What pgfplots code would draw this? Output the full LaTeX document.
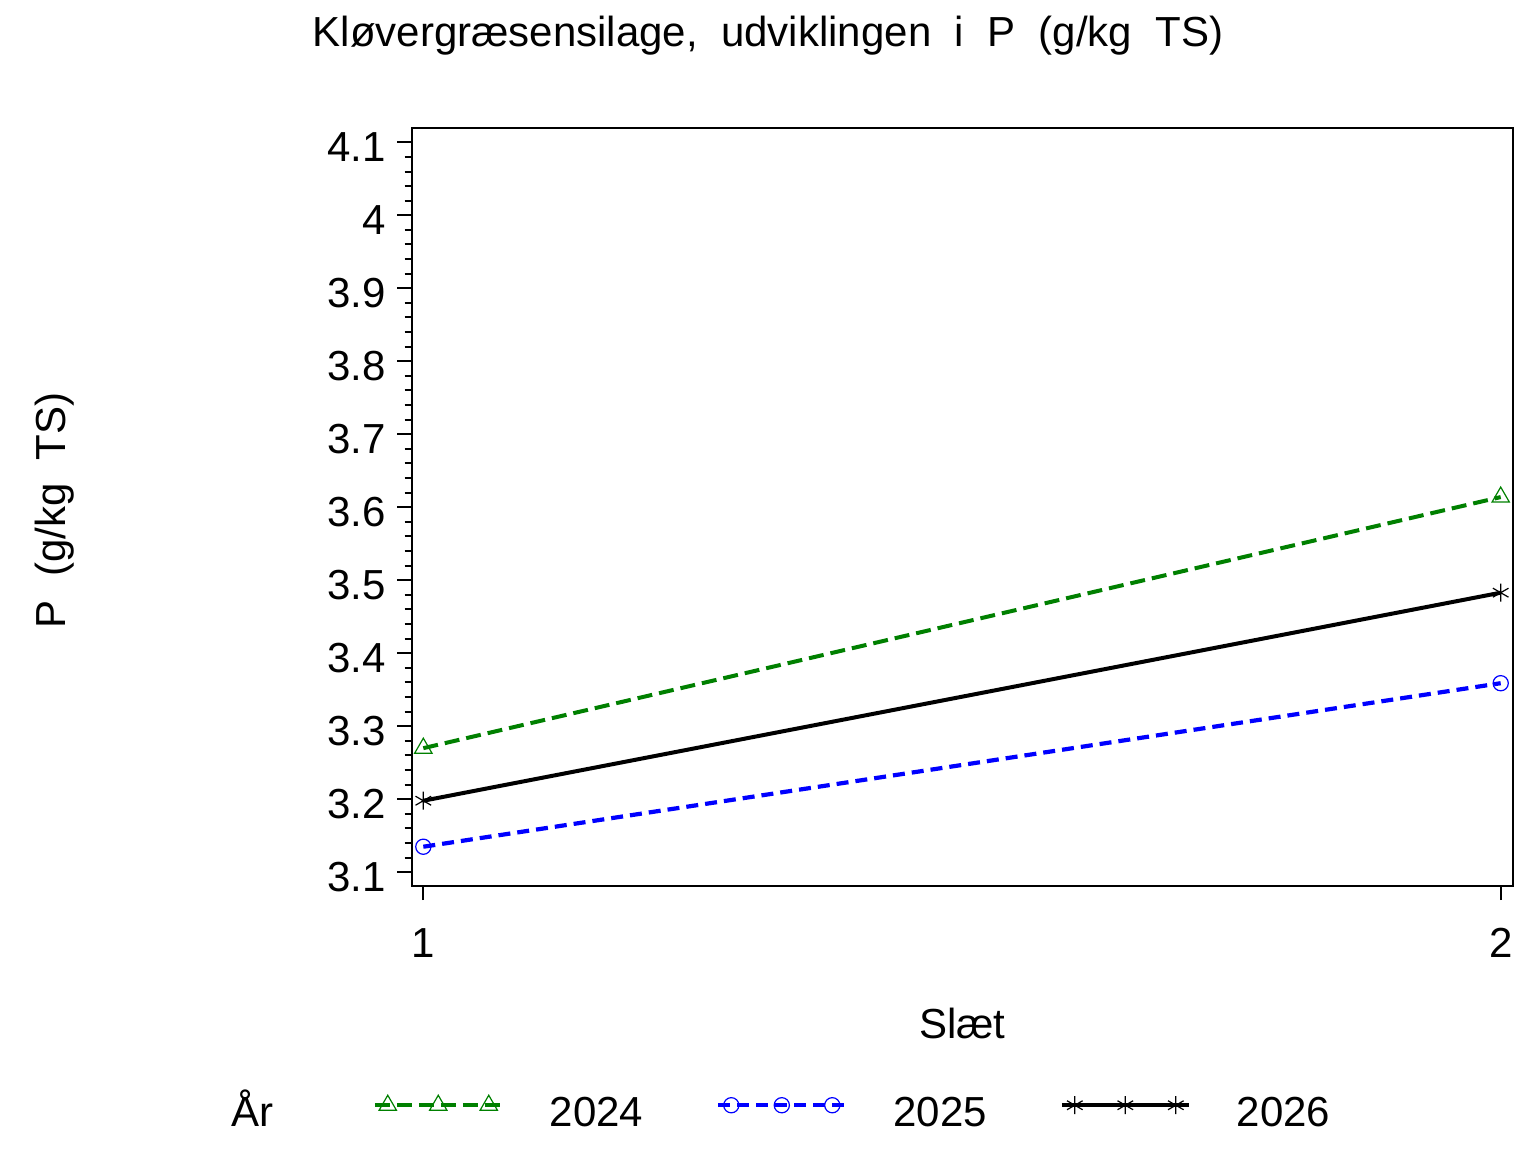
\documentclass[border=0pt]{standalone}
\usepackage{fontspec}
\setmainfont{Liberation Sans}
\usepackage{pgfplots}
\pgfplotsset{compat=1.18}
\definecolor{sasgreen}{RGB}{0,128,0}
\definecolor{sasblue}{RGB}{0,0,255}
\newcommand{\fs}[1]{\fontsize{#1}{1.2\dimexpr#1\relax}\selectfont}
\begin{document}
\begin{tikzpicture}
\begin{axis}[
  at={(0,0)}, anchor=south west,
  scale only axis, width=550.8bp, height=378.85bp,
  xmin=0.9892, xmax=2.0117, ymin=3.0816, ymax=4.1196,
  xtick={1,2},
  ytick={3.1,3.2,3.3,3.4,3.5,3.6,3.7,3.8,3.9,4,4.1},
  minor y tick num=4,
  tick pos=left, tick align=outside,
  major tick length=7.25bp, minor tick length=3.5bp,
  axis line style={line width=1bp},
  tick style={line width=1bp, black},
  /pgf/number format/assume math mode=true,
  yticklabel style={font=\fs{21bp}, anchor=east, inner sep=0pt, yshift=-2.5bp},
  yticklabel shift=5.5bp,
  xticklabel style={font=\fs{21bp}, anchor=north, inner sep=0pt},
  xticklabel shift=14bp,
  title={Kløvergræsensilage,\ \ udviklingen\ \ i\ \ P\ \ (g/kg\ \ TS)},
  title style={at={(axis description cs:0.3235,1.0924)}, anchor=base, inner sep=0pt, font=\fs{21bp}},
  xlabel={Slæt},
  xlabel style={at={(axis description cs:0.5,-0.2019)}, anchor=base, inner sep=0pt, font=\fs{21bp}},
  ylabel={P\ \ (g/kg\ \ TS)},
  ylabel style={at={(axis description cs:-0.3147,0.4954)}, anchor=base, inner sep=0pt, font=\fs{21bp}},
  legend columns=4,
  legend cell align=left,
  legend style={draw=none, fill=none, inner sep=0pt, outer sep=0pt,
    at={(axis description cs:-0.2051,-0.2970)}, anchor=west,
    font=\fs{21bp},
    nodes={inner sep=0pt, text height=15bp, text depth=0pt},
    /tikz/every odd column/.append style={column sep=23bp},
    /tikz/every even column/.append style={column sep=36.5bp}},
  legend image code/.code={\draw[#1, mark indices={2,3,4}] plot coordinates {(0bp,3bp) (6.5bp,3bp) (31.75bp,3bp) (57bp,3bp) (63.5bp,3bp)};},
]
\addlegendimage{empty legend}
\addlegendentry{År\rule{13bp}{0pt}}
\addplot[sasgreen, line width=2bp, dash pattern=on 7.5bp off 3.5bp, mark=triangle, mark size=5bp, mark options={solid, line width=0.6bp}]
  coordinates {(1,3.270) (2,3.614)};
\addlegendentry{2024}
\addplot[sasblue, line width=2.1bp, dash pattern=on 6bp off 3.5bp, mark=o, mark size=3.8bp, mark options={solid, line width=0.6bp}]
  coordinates {(1,3.135) (2,3.359)};
\addlegendentry{2025}
\addplot[black, line width=2bp, solid, mark=asterisk, mark size=4.5bp, mark options={solid, line width=0.6bp}]
  coordinates {(1,3.198) (2,3.483)};
\addlegendentry{2026}
\end{axis}
\pgfresetboundingbox
\path[use as bounding box] (-205.85bp,-133.15bp) rectangle (562.15bp,442.85bp);
\end{tikzpicture}
\end{document}
